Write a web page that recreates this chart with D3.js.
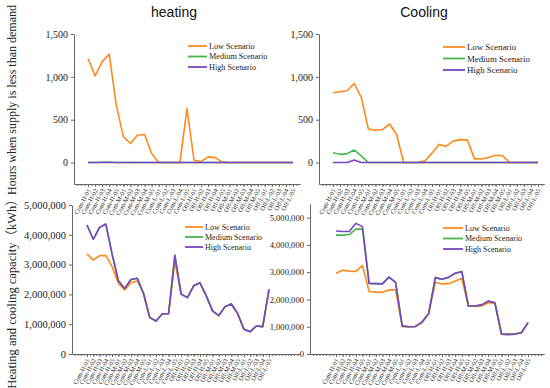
<!DOCTYPE html>
<html>
<head>
<meta charset="utf-8">
<script src="https://cdn.jsdelivr.net/npm/d3@7"></script>
<style>
body { margin:0; background:#fff; }
svg { display:block; }
.axis path, .axis line { stroke:#666; }
.axis text { font-family:"Liberation Serif", serif; fill:#222; }
</style>
</head>
<body>
<div id="chart-area"></div>
<script>
var categories = ["Com-H-01","Com-H-02","Com-H-03","Com-H-04","Com-H-05",
    "Com-M-01","Com-M-02","Com-M-03","Com-M-04","Com-M-05",
    "Com-L-01","Com-L-02","Com-L-03","Com-L-04","Com-L-05",
    "Off-H-01","Off-H-02","Off-H-03","Off-H-04","Off-H-05",
    "Off-M-01","Off-M-02","Off-M-03","Off-M-04","Off-M-05",
    "Off-L-01","Off-L-02","Off-L-03","Off-L-04","Off-L-05"];

var seriesNames = ["Low Scenario", "Medium Scenario", "High Scenario"];
var colors = ["#ff8a1c", "#45b649", "#7a45c2"];

// hours when supply < demand
var heatHoursLow  = [1214,1012,1175,1265,670,303,222,319,327,105,0,0,0,0,630,27,12,66,58,5,0,0,0,0,0,0,0,0,0,0];
var heatHoursMed  = [0,0,3,6,0,0,0,0,0,0,0,0,0,0,0,0,0,0,0,0,0,0,0,0,0,0,0,0,0,0];
var heatHoursHigh = [0,0,0,0,0,0,0,0,0,0,0,0,0,0,0,0,0,0,0,0,0,0,0,0,0,0,0,0,0,0];
var coolHoursLow  = [815,827,838,923,762,392,377,385,450,327,0,0,2,19,110,212,190,250,268,265,46,42,60,85,80,0,0,0,0,0];
var coolHoursMed  = [115,96,104,146,77,0,0,0,0,0,0,0,0,0,0,0,0,0,0,0,0,0,0,0,0,0,0,0,0,0];
var coolHoursHigh = [0,0,0,30,0,0,0,0,0,0,0,0,0,0,0,0,0,0,0,0,0,0,0,0,0,0,0,0,0,0];

// capacity (kWh)
var heatCapLow  = [3360000,3150000,3300000,3300000,2930000,2370000,2150000,2390000,2450000,2040000,1220000,1110000,1350000,1350000,3100000,2010000,1890000,2290000,2390000,1950000,1450000,1290000,1590000,1680000,1360000,830000,750000,940000,920000,2170000];
var heatCapMed  = [4330000,3850000,4250000,4360000,3350000,2460000,2200000,2500000,2540000,2040000,1220000,1110000,1350000,1350000,3310000,2010000,1890000,2290000,2390000,1950000,1450000,1290000,1590000,1680000,1360000,830000,750000,940000,920000,2170000];
var heatCapHigh = [4330000,3850000,4250000,4360000,3350000,2460000,2200000,2500000,2540000,2040000,1220000,1110000,1350000,1350000,3310000,2010000,1890000,2290000,2390000,1950000,1450000,1290000,1590000,1680000,1360000,830000,750000,940000,920000,2170000];
var coolCapLow  = [2960000,3070000,3040000,3030000,3240000,2290000,2270000,2260000,2350000,2350000,1000000,1000000,1010000,1150000,1470000,2620000,2570000,2580000,2680000,2770000,1760000,1740000,1760000,1880000,1860000,730000,720000,730000,780000,1150000];
var coolCapMed  = [4360000,4360000,4380000,4580000,4580000,2590000,2580000,2570000,2820000,2630000,1030000,1000000,1010000,1170000,1490000,2800000,2740000,2810000,2960000,3020000,1760000,1760000,1800000,1940000,1880000,730000,720000,730000,780000,1150000];
var coolCapHigh = [4510000,4490000,4490000,4790000,4670000,2590000,2580000,2570000,2820000,2630000,1030000,1000000,1010000,1170000,1490000,2800000,2740000,2810000,2960000,3020000,1760000,1760000,1800000,1940000,1880000,730000,720000,730000,780000,1150000];

var hoursTicks = [0, 500, 1000, 1500];
var capTicks = [0, 1000000, 2000000, 3000000, 4000000, 5000000];

var svg = d3.select("#chart-area")
    .append("svg")
        .attr("width", 550)
        .attr("height", 388);

function panel(cfg) {
    var g = svg.append("g");

    var x = d3.scaleLinear().domain([0, categories.length - 1]).range([cfg.d0, cfg.d1]);
    var lo = x.invert(cfg.ax0), hi = x.invert(cfg.ax1);
    x.domain([lo, hi]).range([cfg.ax0, cfg.ax1]);

    var y = d3.scaleLinear().domain(cfg.yDomain).range([cfg.yb, cfg.yt]);

    // minor ticks
    var minor = [];
    for (var v = Math.ceil(lo * 2) / 2; v <= hi; v += 0.5) minor.push(v);
    g.append("g")
        .attr("class", "axis")
        .attr("transform", "translate(0," + cfg.yb + ")")
        .call(d3.axisBottom(x).tickValues(minor).tickSize(2).tickSizeOuter(0).tickFormat(""));

    var xAxis = g.append("g")
        .attr("class", "axis")
        .attr("transform", "translate(0," + cfg.yb + ")")
        .call(d3.axisBottom(x)
            .tickValues(d3.range(categories.length))
            .tickSize(3)
            .tickSizeOuter(0)
            .tickFormat(function(i) { return categories[i]; }));
    xAxis.selectAll("text")
        .attr("x", 0)
        .attr("y", 0)
        .attr("dx", "-0.2em")
        .attr("dy", "0.35em")
        .attr("font-size", cfg.xfs + "px")
        .attr("text-anchor", "end")
        .attr("transform", "translate(1," + (cfg.xlOff) + ") rotate(-62)");

    var yAxis = g.append("g")
        .attr("class", "axis")
        .attr("transform", "translate(" + cfg.ax0 + ",0)")
        .call(d3.axisLeft(y)
            .tickValues(cfg.yTicks)
            .tickSize(3)
            .tickSizeOuter(0)
            .tickFormat(d3.format(",")));
    yAxis.selectAll("text").attr("font-size", cfg.yfs + "px");

    var line = d3.line()
        .x(function(d, i) { return x(i); })
        .y(function(d) { return y(d); });

    cfg.series.forEach(function(s, k) {
        g.append("path")
            .attr("d", line(s))
            .attr("fill", "none")
            .attr("stroke", colors[k])
            .attr("stroke-width", 1.6)
            .attr("stroke-linejoin", "round");
    });

    // legend
    seriesNames.forEach(function(name, k) {
        var ly = cfg.ly + k * cfg.ls;
        g.append("line")
            .attr("x1", cfg.lx).attr("x2", cfg.lx + cfg.lw)
            .attr("y1", ly).attr("y2", ly)
            .attr("stroke", colors[k])
            .attr("stroke-width", 1.8);
        g.append("text")
            .attr("x", cfg.lx + cfg.lw + 2)
            .attr("y", ly)
            .attr("dy", "0.35em")
            .attr("font-family", "Liberation Serif, serif")
            .attr("font-size", cfg.lfs + "px")
            .attr("fill", "#222")
            .text(name);
    });

    if (cfg.title) {
        g.append("text")
            .attr("x", cfg.tx)
            .attr("y", 17)
            .attr("text-anchor", "middle")
            .attr("font-family", "Liberation Sans, Arial, sans-serif")
            .attr("font-size", "14px")
            .attr("fill", "#111")
            .text(cfg.title);
    }
}

panel({ title: "heating", tx: 174, d0: 88, d1: 293, ax0: 74, ax1: 300, yt: 34, yb: 184,
    yDomain: [-250, 1500], yTicks: hoursTicks, yfs: 10, xfs: 6.5, xlOff: 4,
    series: [heatHoursLow, heatHoursMed, heatHoursHigh],
    lx: 188, ly: 46, ls: 10.5, lw: 19, lfs: 8.2 });

panel({ title: "Cooling", tx: 424, d0: 333, d1: 538, ax0: 319, ax1: 544, yt: 34, yb: 184,
    yDomain: [-250, 1500], yTicks: hoursTicks, yfs: 10, xfs: 6.5, xlOff: 4,
    series: [coolHoursLow, coolHoursMed, coolHoursHigh],
    lx: 443, ly: 47, ls: 11.5, lw: 22, lfs: 8.8 });

panel({ d0: 87, d1: 269, ax0: 72, ax1: 300, yt: 205, yb: 354,
    yDomain: [0, 5000000], yTicks: capTicks, yfs: 10.5, xfs: 6.5, xlOff: 4,
    series: [heatCapLow, heatCapMed, heatCapHigh],
    lx: 185, ly: 227, ls: 10, lw: 18, lfs: 8 });

panel({ d0: 336, d1: 528, ax0: 310, ax1: 544, yt: 204, yb: 354,
    yDomain: [0, 5500000], yTicks: capTicks, yfs: 8.6, xfs: 6.5, xlOff: 4,
    series: [coolCapLow, coolCapMed, coolCapHigh],
    lx: 443, ly: 228, ls: 10.5, lw: 20, lfs: 8 });

// y-axis titles
svg.append("text")
    .attr("transform", "translate(16,100) rotate(-90)")
    .attr("text-anchor", "middle")
    .attr("font-family", "Liberation Serif, serif")
    .attr("font-size", "12px")
    .attr("fill", "#222")
    .text("Hours when supply is less than demand");

svg.append("text")
    .attr("transform", "translate(16,291) rotate(-90)")
    .attr("text-anchor", "middle")
    .attr("font-family", "Liberation Serif, 'Noto Sans CJK SC', serif")
    .attr("font-size", "12.5px")
    .attr("fill", "#222")
    .text("Heating and cooling capacity（kWh）");
</script>
</body>
</html>
